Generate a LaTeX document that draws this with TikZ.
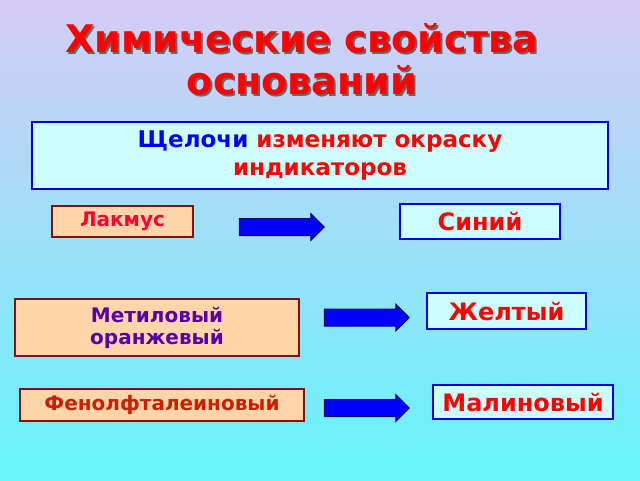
\documentclass[tikz,border=0pt]{standalone}
\usepackage{fontspec}
\setmainfont{DejaVu Sans}
\usetikzlibrary{shapes.arrows}
\definecolor{bgtop}{RGB}{214,204,246}
\definecolor{bgbot}{RGB}{100,244,250}
\definecolor{peach}{RGB}{255,214,170}
\definecolor{darkred}{RGB}{128,20,20}
\definecolor{paleblue}{RGB}{206,255,255}
\tikzset{inbox/.style={fill=peach,draw=darkred,line width=2.5pt,align=center,inner sep=0pt,font=\bfseries\fontsize{20}{22}\selectfont}}
\tikzset{outbox/.style={fill=paleblue,draw=blue!90!black,line width=2.5pt,text=red,inner sep=0pt,font=\bfseries\fontsize{24}{26}\selectfont}}
\tikzset{fatarrow/.style={single arrow,fill=blue,draw=blue!40!black,line width=1pt,minimum height=85pt,inner sep=8pt,single arrow head extend=5pt,single arrow tip angle=90}}

\begin{document}
\begin{tikzpicture}[x=1pt,y=-1pt]
  \shade[top color=bgtop,bottom color=bgbot] (0,0) rectangle (640,480);
  \useasboundingbox (0,0) rectangle (640,480);
  % title
  \node[align=center,text=black!60,font=\bfseries\fontsize{38}{42}\selectfont] at (304,61) {Химические свойства\\оснований};
  \node[align=center,text=red,font=\bfseries\fontsize{38}{42}\selectfont] (title) at (302,59) {Химические свойства\\оснований};
  \node[fill=paleblue,draw=blue!90!black,line width=2.5pt,minimum width=576pt,minimum height=67pt,align=center,text=red,font=\bfseries\fontsize{23}{28}\selectfont] (alkali) at (320,155.5) {\textcolor{blue}{Щелочи} изменяют окраску\\индикаторов};
  % indicators
  \node[inbox,text=red!80!magenta,minimum width=141pt,minimum height=31pt] (litmus) at (122.5,221.5) {Лакмус};
  \node[inbox,text=violet!70!blue,minimum width=284pt,minimum height=57pt] (methyl) at (157,327.5) {Метиловый\\оранжевый};
  \node[inbox,text=red!70!orange!80!black,minimum width=284pt,minimum height=32pt] (phenol) at (162,405) {Фенолфталеиновый};
  % colours
  \node[outbox,minimum width=160pt,minimum height=35pt] (blue) at (480,221.5) {Синий};
  \node[outbox,minimum width=159pt,minimum height=36pt] (yellow) at (506.5,311) {Желтый};
  \node[outbox,minimum width=180pt,minimum height=34pt] (crimson) at (523,402) {Малиновый};
  % arrows
  \node[fatarrow] (a1) at (277.5,227) {};
  \node[fatarrow] (a2) at (362.5,317.5) {};
  \node[fatarrow] (a3) at (362.5,408) {};
\end{tikzpicture}
\end{document}
